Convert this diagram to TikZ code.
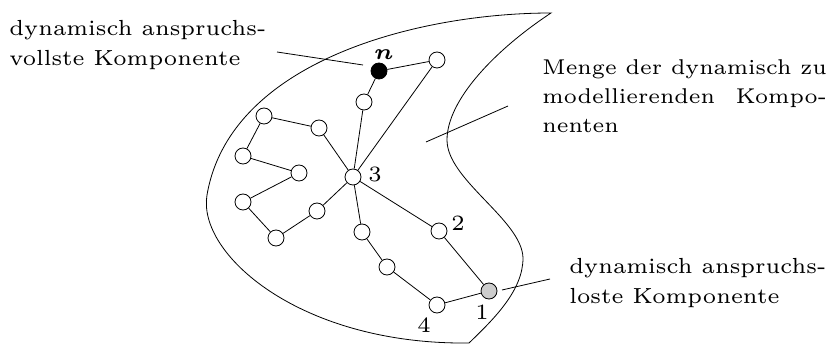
\documentclass[tikz,border=0pt]{standalone}
\usepackage{calc}
\usepackage{bm}
\usetikzlibrary{positioning}
\tikzset{
  comp/.style={circle, draw, fill=white, minimum size=16pt, inner sep=0pt},
  lbl/.style={font=\fontsize{6}{8.1}\selectfont, scale=3.64, inner sep=0pt},
}

\begin{document}
\begin{tikzpicture}[x=1pt, y=-1pt, line width=0.8pt]
  \useasboundingbox (0,0) rectangle (826,344);
  % outline of the set
  \coordinate (tip) at (551,13);
  \coordinate (west) at (207,195);
  \coordinate (foot) at (469,343);
  \coordinate (east) at (523,258);
  \coordinate (waist) at (447,140);
  \draw (tip) .. controls (420,13) and (230,60) .. (west)
    .. controls (197,254) and (300,345) .. (foot)
    .. controls (495,318) and (523,290) .. (east)
    .. controls (522,220) and (447,180) .. (waist)
    .. controls (447,100) and (495,50) .. (tip) -- cycle;

  % components
  \node[comp, fill=black] (n) at (379,71) {};
  \node[comp] (top) at (437,60) {};
  \node[comp] (a1) at (364,102) {};
  \node[comp] (k3) at (353,177) {};
  \node[comp] (b1) at (319,128) {};
  \node[comp] (b2) at (264,116) {};
  \node[comp] (b3) at (243,156) {};
  \node[comp] (b4) at (299,173) {};
  \node[comp] (b5) at (243,202) {};
  \node[comp] (b6) at (276,238) {};
  \node[comp] (b7) at (317,211) {};
  \node[comp] (c1) at (362,232) {};
  \node[comp] (c2) at (387,267) {};
  \node[comp] (k4) at (437,305) {};
  \node[comp] (k2) at (439,231) {};
  \node[comp, fill=black!20] (k1) at (489,291) {};

  \draw (n) -- (top) (n) -- (a1) -- (k3) (top) -- (k3)
    (k3) -- (b1) -- (b2) -- (b3) -- (b4) -- (b5) -- (b6) -- (b7) -- (k3)
    (k3) -- (c1) -- (c2) -- (k4) -- (k1)
    (k3) -- (k2) -- (k1);

  % numbers
  \node[lbl] (ln) at (384,55) {$\bm{n}$};
  \node[lbl] (l3) at (375,174) {3};
  \node[lbl] (l2) at (458,223) {2};
  \node[lbl] (l1) at (482,312) {1};
  \node[lbl] (l4) at (424,325) {4};

  % texts
  \node[lbl, anchor=north west, align=left] (txtHi) at (8,19)
    {dynamisch anspruchs-\\vollste Komponente};
  \node[lbl, scale=0.98, anchor=north west, align=left] (txtSet) at (541,58)
    {Menge der dynamisch zu\\
     \makebox[\widthof{Menge der dynamisch zu}][s]{modellierenden Kompo-}\\
     nenten};
  \node[lbl, anchor=north west, align=left] (txtLo) at (568,257)
    {dynamisch anspruchs-\\loste Komponente};

  % leader lines
  \coordinate (hiA) at (277,52);
  \coordinate (hiB) at (363,65);
  \coordinate (setA) at (426,142);
  \coordinate (setB) at (508,106);
  \coordinate (loA) at (502,290);
  \coordinate (loB) at (550,279);
  \draw (hiA) -- (hiB) (setA) -- (setB) (loA) -- (loB);
\end{tikzpicture}
\end{document}
